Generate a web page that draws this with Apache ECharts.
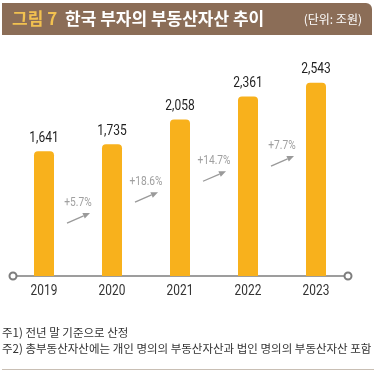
<!DOCTYPE html>
<html><head><meta charset="utf-8">
<script src="https://cdn.jsdelivr.net/npm/echarts@6/dist/echarts.min.js"></script>
<style>html,body{margin:0;padding:0;background:#fff}#c{width:376px;height:374px}</style>
</head><body><div id="c"></div>
<script>
var years = ['2019', '2020', '2021', '2022', '2023'];
var assets = [1641, 1735, 2058, 2361, 2543];
var growthLabels = ['+5.7%', '+18.6%', '+14.7%', '+7.7%'];
var growthLabelAt = [960, 1235, 1510, 1710];

var titleFig = '그림 7';
var titleText = '한국 부자의 부동산자산 추이';
var unitText = '(단위: 조원)';
var notes = ['주1) 전년 말 기준으로 산정', '주2) 총부동산자산에는 개인 명의의 부동산자산과 법인 명의의 부동산자산 포함'];

var KR = '"Noto Sans CJK KR", "Noto Sans", sans-serif';
var NUM = 'Roboto, "Liberation Sans", sans-serif';

var chart = echarts.init(document.getElementById('c'), null, {renderer: 'canvas'});
chart.setOption({
  animation: false,
  grid: {left: 10, right: 26, top: 48, bottom: 98},
  xAxis: {
    type: 'category', data: years,
    axisLine: {show: true, symbol: ['emptyCircle', 'emptyCircle'], symbolSize: [7, 7], symbolOffset: [3, -2],
      lineStyle: {color: '#7d7d7d', width: 1.5}},
    axisTick: {show: false},
    axisLabel: {show: false}
  },
  yAxis: {type: 'value', min: 0, max: 3000, show: false, splitLine: {show: false}},
  series: [{
    type: 'bar', data: assets, barWidth: 20,
    itemStyle: {color: '#F8B11C', borderRadius: [4, 4, 0, 0]}
  }, {
    // value labels above bars and year labels under the axis (condensed look)
    type: 'custom',
    data: assets.map(function (v, i) { return [i, v]; }),
    renderItem: function (params, api) {
      var top = api.coord([api.value(0), api.value(1)]);
      var base = api.coord([api.value(0), 0]);
      return {type: 'group', children: [
        {type: 'text', x: top[0], y: top[1] - 13, scaleX: 0.8,
          style: {text: assets[params.dataIndex].toLocaleString('en-US'), x: 0, y: 0, align: 'center', verticalAlign: 'middle',
            fill: '#1f1f1f', font: '15px ' + NUM}},
        {type: 'text', x: base[0], y: base[1] + 15, scaleX: 0.85,
          style: {text: years[params.dataIndex], x: 0, y: 0, align: 'center', verticalAlign: 'middle',
            fill: '#333', font: '14px ' + NUM}}
      ]};
    },
    z: 6
  }, {
    type: 'custom',
    data: growthLabels.map(function (g, i) { return [i, growthLabelAt[i]]; }),
    renderItem: function (params, api) {
      var p = api.coord([api.value(0), api.value(1)]);
      var bw = api.size([1, 0])[0];
      var mx = p[0] + bw / 2, ty = p[1];
      var x1 = mx - 11, y1 = ty + 20, x2 = mx + 12, y2 = ty + 10;
      var ang = Math.atan2(y2 - y1, x2 - x1);
      var hl = 7, hw = 3;
      var bx = x2 - hl * Math.cos(ang), by = y2 - hl * Math.sin(ang);
      var nx = -Math.sin(ang) * hw, ny = Math.cos(ang) * hw;
      return {type: 'group', children: [
        {type: 'text', x: mx, y: ty, scaleX: 0.85,
          style: {text: growthLabels[params.dataIndex], x: 0, y: 0, align: 'center', verticalAlign: 'middle',
          fill: '#a0a0a0', font: '12px ' + NUM}},
        {type: 'line', shape: {x1: x1, y1: y1, x2: bx, y2: by}, style: {stroke: '#9a9a9a', lineWidth: 1.3}},
        {type: 'polygon', shape: {points: [[x2, y2], [bx + nx, by + ny], [bx - nx, by - ny]]}, style: {fill: '#9a9a9a'}}
      ]};
    },
    z: 5
  }],
  graphic: [
    {type: 'rect', shape: {x: 2, y: 3, width: 370, height: 32, r: [0, 6, 0, 0]}, style: {fill: '#8B6D57'}},
    {type: 'text', style: {text: titleFig, x: 12, y: 19, verticalAlign: 'middle', fill: '#F2C150', font: 'bold 17px ' + KR}},
    {type: 'text', style: {text: titleText, x: 65, y: 19, verticalAlign: 'middle', fill: '#ffffff', font: 'bold 17px ' + KR}},
    {type: 'text', style: {text: unitText, x: 362, y: 19, align: 'right', verticalAlign: 'middle', fill: '#ffffff', font: '12px ' + KR}},
    {type: 'text', style: {text: notes[0], x: 2, y: 333, verticalAlign: 'middle', fill: '#333', font: '11.5px ' + KR}},
    {type: 'text', style: {text: notes[1], x: 2, y: 349, verticalAlign: 'middle', fill: '#333', font: '11.5px ' + KR}},
    {type: 'rect', shape: {x: 2, y: 369, width: 372, height: 1}, style: {fill: '#c9bfb4'}}
  ]
});
</script></body></html>
